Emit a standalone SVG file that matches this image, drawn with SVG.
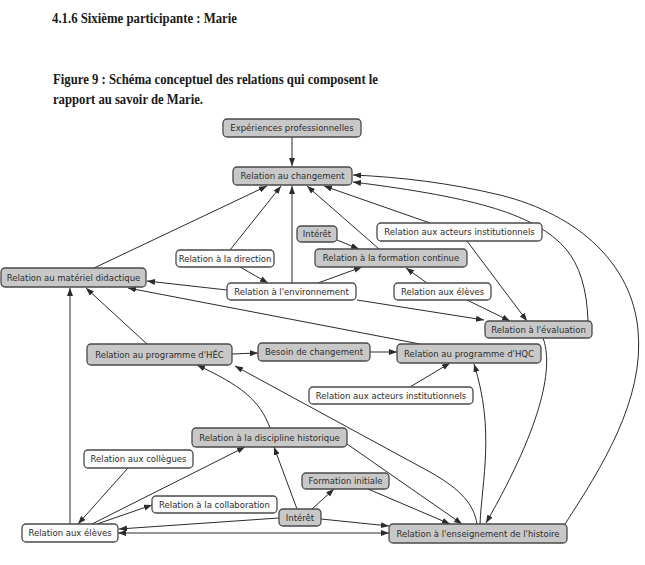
<svg xmlns="http://www.w3.org/2000/svg" width="645" height="565" viewBox="0 0 645 565">
<defs>
<marker id="ah" markerUnits="userSpaceOnUse" markerWidth="9" markerHeight="7" refX="8" refY="3" orient="auto">
<path d="M0,0 L8,3 L0,6 z" fill="#2b2b2b"/>
</marker>
<marker id="as" markerUnits="userSpaceOnUse" markerWidth="9" markerHeight="7" refX="0" refY="3" orient="auto">
<path d="M8,0 L0,3 L8,6 z" fill="#2b2b2b"/>
</marker>
<style>
.hd{font-family:"Liberation Serif","Times New Roman",serif;font-weight:bold;font-size:15px;fill:#1a1a1a}
.g rect{fill:#c8c8c8;stroke:#4a4a4a;stroke-width:1.3}
.w rect{fill:#fbfbfb;stroke:#4a4a4a;stroke-width:1.3}
text.t{font-family:"DejaVu Sans",Verdana,sans-serif;font-size:8.5px;fill:#2e2e2e;text-anchor:middle}
#edges path{fill:none;stroke:#2b2b2b;stroke-width:1;marker-end:url(#ah)}
</style>
</defs>
<rect width="645" height="565" fill="#ffffff"/>
<text class="hd" x="52" y="23" textLength="185" lengthAdjust="spacingAndGlyphs">4.1.6 Sixième participante : Marie</text>
<text class="hd" x="53" y="84" textLength="325" lengthAdjust="spacingAndGlyphs">Figure 9 : Schéma conceptuel des relations qui composent le</text>
<text class="hd" x="53" y="104" textLength="150" lengthAdjust="spacingAndGlyphs">rapport au savoir de Marie.</text>

<g id="edges">
<path d="M292,137 L292,166"/>
<path d="M94,268 L267,186"/>
<path d="M230,250 L281,186"/>
<path d="M292,283 L292,186"/>
<path d="M379,249 L307,186"/>
<path d="M430,223 L324,186"/>
<path d="M565,524 C600,470 645,400 638,330 C632,265 580,215 500,195 C450,183 400,177 353,175"/>
<path d="M588,321 C587,290 580,265 565,248 C535,215 480,198 353,182"/>
<path d="M467,241 L527,321"/>
<path d="M467,300 L510,321"/>
<path d="M357,300 L484,320"/>
<path d="M427,283 L406,268"/>
<path d="M318,283 L362,267"/>
<path d="M240,267 L268,283"/>
<path d="M227,290 L147,281"/>
<path d="M337,240 L359,249"/>
<path d="M70,524 L70,288"/>
<path d="M147,344 L86,288"/>
<path d="M420,344 L128,288"/>
<path d="M232,354 L258,353"/>
<path d="M370,352 L397,352"/>
<path d="M410,387 L450,363"/>
<path d="M270,428 C260,400 240,385 197,365"/>
<path d="M477,524 C474,505 462,490 430,472 L235,366"/>
<path d="M480,524 C482,480 495,430 474,364"/>
<path d="M543,338 C553,365 545,420 486,523"/>
<path d="M347,444 L462,524"/>
<path d="M368,489 L450,524"/>
<path d="M321,519 L389,526"/>
<path d="M118,533 L389,533" marker-start="url(#as)"/>
<path d="M279,518 L119,529"/>
<path d="M312,509 L334,489"/>
<path d="M297,509 L274,447"/>
<path d="M92,524 L245,447"/>
<path d="M97,524 L152,505"/>
<path d="M128,468 L78,524"/>
</g>

<g id="n1" class="g"><rect x="223" y="119" width="138" height="18" rx="4"/><text class="t" x="292" y="131">Expériences professionnelles</text></g>
<g id="n2" class="g"><rect x="233" y="167" width="119" height="18" rx="4"/><text class="t" x="292.5" y="179">Relation au changement</text></g>
<g id="n3" class="g"><rect x="297" y="226" width="40" height="16" rx="4"/><text class="t" x="317" y="237">Intérêt</text></g>
<g id="n4" class="w"><rect x="377" y="223" width="165" height="18" rx="4"/><text class="t" x="459.5" y="235">Relation aux acteurs institutionnels</text></g>
<g id="n5" class="g"><rect x="315" y="249" width="152" height="18" rx="4"/><text class="t" x="391" y="261">Relation à la formation continue</text></g>
<g id="n6" class="w"><rect x="176" y="250" width="98" height="17" rx="4"/><text class="t" x="225" y="261.5">Relation à la direction</text></g>
<g id="n7" class="g"><rect x="1" y="268" width="145" height="19" rx="4"/><text class="t" x="73.5" y="280.5">Relation au matériel didactique</text></g>
<g id="n8" class="w"><rect x="227" y="283" width="129" height="17" rx="4"/><text class="t" x="291.5" y="294.5">Relation à l'environnement</text></g>
<g id="n9" class="w"><rect x="394" y="283" width="97" height="17" rx="4"/><text class="t" x="442.5" y="294.5">Relation aux élèves</text></g>
<g id="n10" class="g"><rect x="485" y="321" width="107" height="17" rx="4"/><text class="t" x="538.5" y="332.5">Relation à l'évaluation</text></g>
<g id="n11" class="g"><rect x="258" y="343" width="112" height="18" rx="4"/><text class="t" x="314" y="355">Besoin de changement</text></g>
<g id="n12" class="g"><rect x="397" y="344" width="144" height="19" rx="4"/><text class="t" x="469" y="356.5">Relation au programme d'HQC</text></g>
<g id="n13" class="g"><rect x="87" y="344" width="145" height="21" rx="4"/><text class="t" x="159.5" y="357.5">Relation au programme d'HÉC</text></g>
<g id="n14" class="w"><rect x="309" y="387" width="164" height="17" rx="4"/><text class="t" x="391" y="398.5">Relation aux acteurs institutionnels</text></g>
<g id="n15" class="g"><rect x="192" y="428" width="155" height="19" rx="4"/><text class="t" x="269.5" y="440.5">Relation à la discipline historique</text></g>
<g id="n16" class="w"><rect x="84" y="450" width="109" height="18" rx="4"/><text class="t" x="138.5" y="462">Relation aux collègues</text></g>
<g id="n17" class="g"><rect x="302" y="473" width="87" height="16" rx="4"/><text class="t" x="345.5" y="484">Formation initiale</text></g>
<g id="n18" class="w"><rect x="152" y="496" width="125" height="17" rx="4"/><text class="t" x="214.5" y="507.5">Relation à la collaboration</text></g>
<g id="n19" class="g"><rect x="279" y="509" width="42" height="17" rx="4"/><text class="t" x="300" y="520.5">Intérêt</text></g>
<g id="n20" class="w"><rect x="22" y="524" width="96" height="18" rx="4"/><text class="t" x="70" y="536">Relation aux élèves</text></g>
<g id="n21" class="g"><rect x="389" y="524" width="178" height="19" rx="4"/><text class="t" x="478" y="536.5">Relation à l'enseignement de l'histoire</text></g>
</svg>
